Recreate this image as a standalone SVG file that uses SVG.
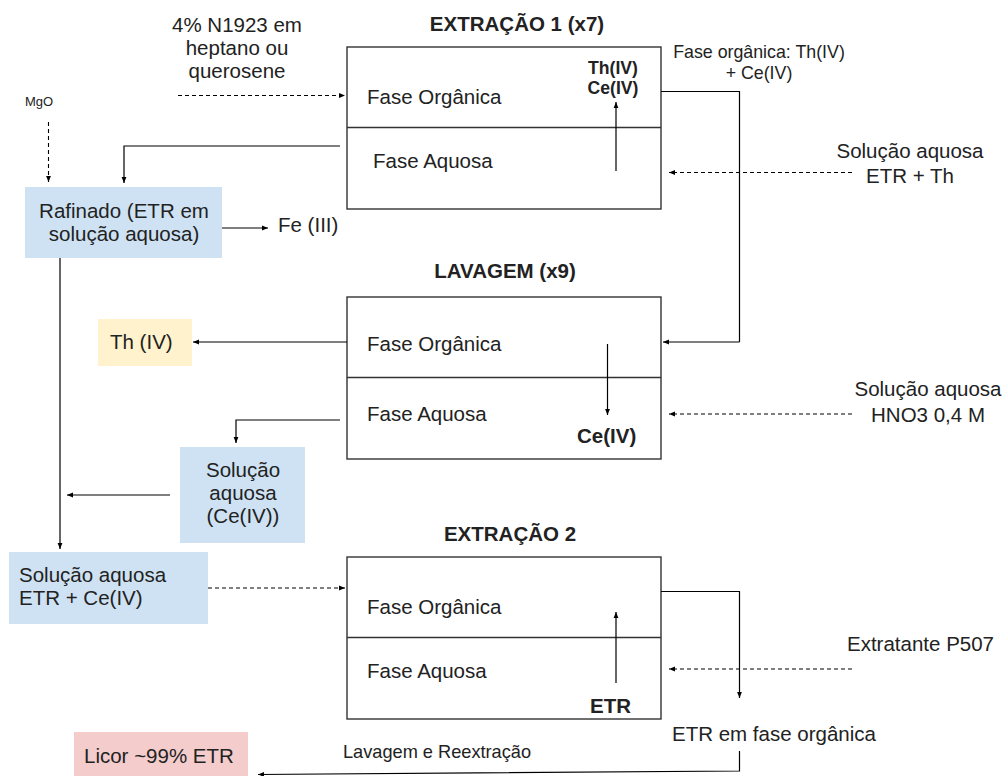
<svg xmlns="http://www.w3.org/2000/svg" width="1003" height="776" viewBox="0 0 1003 776">
<defs>
<marker id="ah" markerUnits="userSpaceOnUse" markerWidth="8" markerHeight="8" refX="6" refY="3" orient="auto">
<path d="M0,0.6 L6,3 L0,5.4 z" fill="#000"/>
</marker>
<style>
text{font-family:"Liberation Sans",Arial,sans-serif;fill:#222;}
.t{font-size:20.5px;}
.s{font-size:17.8px;}
.b{font-weight:bold;}
.c{text-anchor:middle;}
.box{fill:#fff;stroke:#333;stroke-width:1.4;}
.div{stroke:#333;stroke-width:1.4;fill:none;}
.ln{stroke:#000;stroke-width:1.2;fill:none;marker-end:url(#ah);}
.pl{stroke:#000;stroke-width:1.2;fill:none;}
.ds{stroke:#000;stroke-width:1.1;fill:none;stroke-dasharray:4 3;marker-end:url(#ah);}
.blue{fill:#cfe2f3;}
</style>
</defs>
<rect width="1003" height="776" fill="#fff"/>

<g id="extracao1">
<text class="t b c" x="517" y="31">EXTRAÇÃO 1 (x7)</text>
<rect class="box" x="347" y="47" width="314" height="162"/>
<line class="div" x1="347" y1="127.5" x2="661" y2="127.5"/>
<text class="t" x="367" y="104">Fase Orgânica</text>
<text class="t" x="373" y="168">Fase Aquosa</text>
<text class="b c" font-size="17.6" x="613" y="74">Th(IV)</text>
<text class="b c" font-size="17.6" x="613" y="94">Ce(IV)</text>
</g>

<g id="lavagem">
<text class="t b c" x="505" y="278">LAVAGEM (x9)</text>
<rect class="box" x="347" y="297" width="314" height="162"/>
<line class="div" x1="347" y1="377.5" x2="661" y2="377.5"/>
<text class="t" x="367" y="350.5">Fase Orgânica</text>
<text class="t" x="367" y="421">Fase Aquosa</text>
<text class="t b" x="577" y="443">Ce(IV)</text>
</g>

<g id="extracao2">
<text class="t b c" x="510" y="541">EXTRAÇÃO 2</text>
<rect class="box" x="347" y="557" width="314" height="162"/>
<line class="div" x1="347" y1="637.5" x2="661" y2="637.5"/>
<text class="t" x="367" y="614">Fase Orgânica</text>
<text class="t" x="367" y="678">Fase Aquosa</text>
<text class="t b" x="590" y="713">ETR</text>
</g>

<g id="solvente1">
<text class="t c" x="237" y="32">4% N1923 em</text>
<text class="t c" x="237" y="55">heptano ou</text>
<text class="t c" x="237" y="78">querosene</text>
</g>

<g id="mgo">
<text font-size="13" x="25" y="106">MgO</text>
</g>

<g id="rafinado">
<rect class="blue" x="25" y="187" width="197" height="71"/>
<text class="t c" x="124" y="218">Rafinado (ETR em</text>
<text class="t c" x="124" y="241">solução aquosa)</text>
</g>

<g id="fe">
<text class="t" x="278" y="232">Fe (III)</text>
</g>

<g id="th">
<rect x="98" y="319" width="94" height="47" fill="#fff2cc"/>
<text class="t" x="110" y="348.5">Th (IV)</text>
</g>

<g id="solucao-ce">
<rect class="blue" x="180" y="447" width="125" height="96"/>
<text class="t c" x="243" y="477">Solução</text>
<text class="t c" x="243" y="500">aquosa</text>
<text class="t c" x="243" y="523">(Ce(IV))</text>
</g>

<g id="solucao-etr-ce">
<rect class="blue" x="9" y="552" width="199" height="72"/>
<text class="t" x="19" y="582">Solução aquosa</text>
<text class="t" x="19" y="605">ETR + Ce(IV)</text>
</g>

<g id="licor">
<rect x="74" y="732" width="174" height="44" fill="#f4cccc"/>
<text class="t" x="84" y="763">Licor ~99% ETR</text>
</g>

<g id="label-fase-organica">
<text class="s c" x="759" y="57.5">Fase orgânica: Th(IV)</text>
<text class="s c" x="759" y="78.5">+ Ce(IV)</text>
</g>

<g id="alimentacao1">
<text class="t c" x="910" y="158">Solução aquosa</text>
<text class="t c" x="910" y="183">ETR + Th</text>
</g>

<g id="alimentacao2">
<text class="t c" x="928" y="396">Solução aquosa</text>
<text class="t c" x="928" y="422">HNO3 0,4 M</text>
</g>

<g id="extratante">
<text class="t" x="847" y="651">Extratante P507</text>
</g>

<g id="etr-organica">
<text class="t" x="672" y="741">ETR em fase orgânica</text>
</g>

<g id="label-lavagem">
<text font-size="18.2" x="343" y="758">Lavagem e Reextração</text>
</g>

<g id="connectors">
<path class="ds" d="M178,95.5 H345"/>
<path class="ds" d="M48.5,122 V182"/>
<path class="ln" d="M340,146 H124 V183"/>
<path class="ln" d="M222,228 H268"/>
<path class="ln" d="M616,171 V102"/>
<path class="pl" d="M661,91.5 H739.5 V342"/>
<path class="ln" d="M739.5,342 H663"/>
<path class="ds" d="M852,172.5 H669"/>
<path class="ln" d="M60,258 V549"/>
<path class="ln" d="M347,342 H193"/>
<path class="ln" d="M607.5,344 V415"/>
<path class="ln" d="M340,420 H236 V443"/>
<path class="ln" d="M170,495 H67"/>
<path class="ds" d="M852,414 H669"/>
<path class="ds" d="M208,588 H345"/>
<path class="ln" d="M616,683 V612"/>
<path class="ln" d="M661,591.5 H739.5 V698"/>
<path class="ds" d="M852,669 H669"/>
<path class="ln" d="M739.5,751 V771 L258,774.5"/>
</g>
</svg>
